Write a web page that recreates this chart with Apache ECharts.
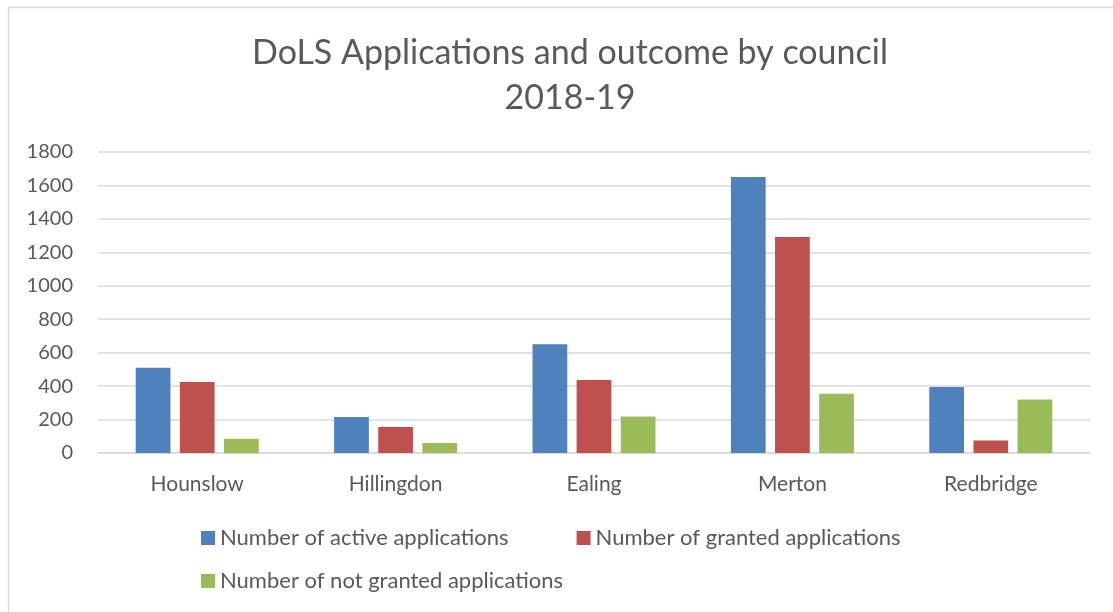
<!DOCTYPE html>
<html>
<head>
<meta charset="utf-8">
<script src="https://cdn.jsdelivr.net/npm/echarts@6/dist/echarts.min.js"></script>
<style>
  html, body { margin: 0; padding: 0; background: #ffffff; }
  #chart { width: 1113px; height: 612px; }
</style>
</head>
<body>
<div id="chart"></div>
<script>
// Councils along the x axis
var councils = ['Hounslow', 'Hillingdon', 'Ealing', 'Merton', 'Redbridge'];

// Series values per council
var activeApps = [510, 215, 650, 1650, 395];
var grantedApps = [425, 155, 437, 1292, 75];
var notGrantedApps = [85, 60, 218, 355, 320];

// Y axis scale
var yMin = 0, yMax = 1800, yStep = 200;

var seriesNames = [
  'Number of active applications',
  'Number of granted applications',
  'Number of not granted applications'
];
var colors = ['#4f81bd', '#c0504d', '#9bbb59'];
var textColor = '#595959';
var fontFamily = 'Lato, "Open Sans", sans-serif';

var chart = echarts.init(document.getElementById('chart'), null, { renderer: 'canvas' });

function barSeries(idx, values) {
  return {
    name: seriesNames[idx],
    type: 'bar',
    data: values,
    barGap: '27%',
    barCategoryGap: '38%',
    itemStyle: { color: colors[idx] }
  };
}

chart.setOption({
  backgroundColor: '#ffffff',
  animation: false,
  textStyle: { fontFamily: fontFamily },
  graphic: [{
    type: 'rect',
    shape: { x: 8.5, y: 7.5, width: 1200, height: 700 },
    style: { fill: 'none', stroke: '#d9d9d9', lineWidth: 1.5 },
    silent: true
  }],
  title: {
    text: 'DoLS Applications and outcome by council\n2018-19',
    left: 565,
    textAlign: 'center',
    top: 26,
    textStyle: {
      color: textColor,
      fontSize: 34,
      fontWeight: 'normal',
      fontFamily: fontFamily,
      lineHeight: 45
    }
  },
  legend: [{
    data: seriesNames.slice(0, 2),
    left: 196,
    top: 522,
    itemWidth: 14,
    itemHeight: 14,
    itemGap: 68,
    icon: 'rect',
    textStyle: { color: textColor, fontSize: 22, fontFamily: fontFamily }
  }, {
    data: seriesNames.slice(2),
    left: 196,
    top: 565,
    itemWidth: 14,
    itemHeight: 14,
    icon: 'rect',
    textStyle: { color: textColor, fontSize: 22, fontFamily: fontFamily }
  }],
  grid: { left: 98, right: 23, top: 152, bottom: 159, containLabel: false },
  xAxis: {
    type: 'category',
    data: councils,
    axisLine: { lineStyle: { color: '#d9d9d9', width: 1.5 } },
    axisTick: { show: false },
    axisLabel: { color: textColor, fontSize: 21, margin: 21, fontFamily: fontFamily }
  },
  yAxis: {
    type: 'value',
    min: yMin,
    max: yMax,
    interval: yStep,
    axisLine: { show: false },
    axisTick: { show: false },
    splitLine: { lineStyle: { color: '#d9d9d9', width: 1.5 } },
    axisLabel: {
      color: textColor, fontSize: 20, margin: 25, fontFamily: fontFamily,
      formatter: function (v) { return String(v); }
    }
  },
  series: [
    barSeries(0, activeApps),
    barSeries(1, grantedApps),
    barSeries(2, notGrantedApps)
  ]
});
</script>
</body>
</html>
